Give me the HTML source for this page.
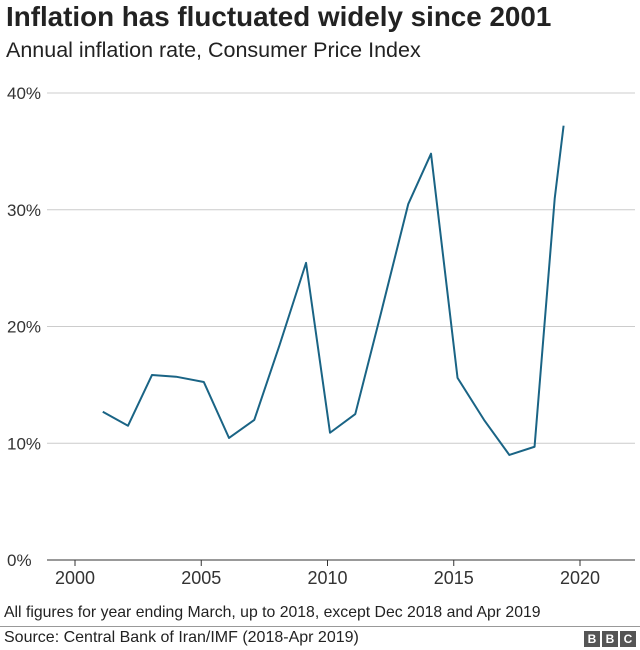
<!DOCTYPE html>
<html><head><meta charset="utf-8"><style>
body{margin:0;background:#fff;font-family:"Liberation Sans","Noto Sans CJK SC",sans-serif;}
#wrap{position:relative;width:640px;height:650px;overflow:hidden;}
.t{position:absolute;white-space:nowrap;color:#222;}
</style></head><body>
<div id="wrap">
<div class="t" style="left:6px;top:1px;font-size:27.8px;font-weight:bold;">Inflation has fluctuated widely since 2001</div>
<div class="t" style="left:6px;top:38px;font-size:21.5px;">Annual inflation rate, Consumer Price Index</div>
<svg id="chart" width="640" height="650" style="position:absolute;left:0;top:0"></svg>
<div class="t" style="left:4px;top:604px;font-size:15.8px;">All figures for year ending March, up to 2018, except Dec 2018 and Apr 2019</div>
<div style="position:absolute;left:0;top:626px;width:640px;height:1px;background:#999"></div>
<div class="t" style="left:4px;top:629px;font-size:16px;">Source: Central Bank of Iran/IMF (2018-Apr 2019)</div>
<div style="position:absolute;left:584px;top:631px;display:flex;gap:2px;">
<span style="background:#555;color:#fff;font:bold 12px 'Liberation Sans';width:16px;height:16px;text-align:center;line-height:16px">B</span>
<span style="background:#555;color:#fff;font:bold 12px 'Liberation Sans';width:16px;height:16px;text-align:center;line-height:16px">B</span>
<span style="background:#555;color:#fff;font:bold 12px 'Liberation Sans';width:16px;height:16px;text-align:center;line-height:16px">C</span>
</div>
</div>
<script>
const years=[2001.1,2002.1,2003.05,2004.0,2005.1,2006.1,2007.1,2008.1,2009.15,2010.1,2011.1,2012.1,2013.2,2014.1,2015.15,2016.2,2017.2,2018.2,2019.0,2019.35];
const inflation=[12.7,11.5,15.85,15.7,15.25,10.45,12.0,18.4,25.45,10.9,12.5,21.0,30.5,34.8,15.6,12.0,9.0,9.7,31.0,37.2];
const yTicks=[0,10,20,30,40];
const yTickLabels=["0%","10%","20%","30%","40%"];
const xTicks=[2000,2005,2010,2015,2020];
const NS="http://www.w3.org/2000/svg";
const svg=document.getElementById('chart');
function xs(v){return 75+(v-2000)*25.25;}
function ys(v){return 560-v*11.675;}
function mk(tag,attrs){const e=document.createElementNS(NS,tag);for(const k in attrs)e.setAttribute(k,attrs[k]);svg.appendChild(e);return e;}
yTicks.forEach((t,i)=>{
  const l=mk('line',{x1:47,x2:635,y1:ys(t),y2:ys(t),stroke:t===0?'#333':'#ccc','stroke-width':1});
  
  
  const tx=mk('text',{x:7,y:ys(t)+6,'font-size':17,fill:'#333','font-family':'Liberation Sans'});
  tx.textContent=yTickLabels[i];
  
  
});
xTicks.forEach(t=>{
  const l=mk('line',{x1:xs(t),x2:xs(t),y1:560,y2:566,stroke:'#333'});
  
  
  const tx=mk('text',{x:xs(t),y:584,'font-size':18,fill:'#333','text-anchor':'middle','font-family':'Liberation Sans'});
  tx.textContent=t;
  
  
});
const p=mk('polyline',{points:years.map((y,i)=>xs(y)+','+ys(inflation[i])).join(' '),fill:'none',stroke:'#1a6485','stroke-width':2,'stroke-linejoin':'round'});


</script>
</body></html>
